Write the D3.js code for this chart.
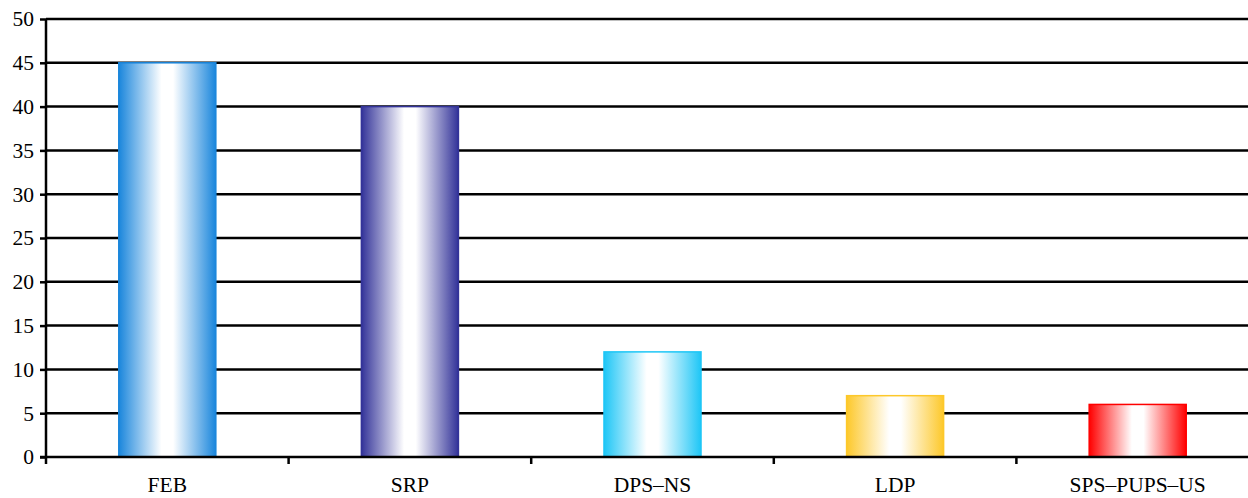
<!DOCTYPE html>
<html><head><meta charset="utf-8">
<script src="https://cdn.jsdelivr.net/npm/d3@7"></script>
<style>body{margin:0;background:#fff}svg{display:block}
text{font-family:"Liberation Serif","Times New Roman",serif !important}</style>
</head><body>
<svg id="c" width="1248" height="498"></svg>
<script>
const categories = ["FEB", "SRP", "DPS\u2013NS", "LDP", "SPS\u2013PUPS\u2013US"];
const values = [45, 40, 12, 7, 6];
const barColors = ["#1a86dc", "#333399", "#1ec6f6", "#fdc82a", "#ff0000"];
const yTicks = [0, 5, 10, 15, 20, 25, 30, 35, 40, 45, 50];

(function () {
const svg = d3.select("#c");
const mLeft = 46, mTop = 19, mBottom = 457, bandW = 242.6;
const x = d3.scaleBand().domain(categories).range([mLeft, mLeft + bandW * categories.length]).paddingInner(0.6).paddingOuter(0.3);
const y = d3.scaleLinear().domain([0, 50]).range([mBottom, mTop]);

const defs = svg.append("defs");
barColors.forEach((c, i) => {
  const g = defs.append("linearGradient").attr("id", "g" + i).attr("x1", "0").attr("x2", "1").attr("y1", "0").attr("y2", "0");
  g.append("stop").attr("offset", "0%").attr("stop-color", c);
  g.append("stop").attr("offset", "44%").attr("stop-color", "#ffffff");
  g.append("stop").attr("offset", "56%").attr("stop-color", "#ffffff");
  g.append("stop").attr("offset", "100%").attr("stop-color", c);
});

// gridlines
svg.append("g").selectAll("line").data(yTicks.filter(d => d > 0)).join("line")
  .attr("x1", mLeft).attr("x2", 1248).attr("y1", d => y(d)).attr("y2", d => y(d))
  .attr("stroke", "#000").attr("stroke-width", 2.5);

// bars
svg.append("g").selectAll("rect").data(values).join("rect")
  .attr("x", (d, i) => x(categories[i])).attr("width", x.bandwidth())
  .attr("y", d => y(d)).attr("height", d => y(0) - y(d))
  .attr("fill", (d, i) => `url(#g${i})`)
  .attr("stroke", (d, i) => barColors[i]).attr("stroke-width", 1.5);

// y axis
const yAxis = d3.axisLeft(y).tickValues(yTicks).tickSize(6).tickPadding(6);
const ya = svg.append("g").attr("transform", `translate(${mLeft},0)`).call(yAxis);
ya.attr("font-family", null);
ya.select(".domain").attr("stroke", "#000").attr("stroke-width", 2.5).attr("d", `M0,${mTop}V${mBottom}`);
ya.selectAll(".tick line").attr("stroke", "#000").attr("stroke-width", 2.5);
ya.selectAll("text").attr("font-size", 21.5).attr("fill", "#000");

// x axis
const xa = svg.append("g").attr("transform", `translate(0,${mBottom})`);
xa.append("line").attr("x1", mLeft - 6).attr("x2", 1248).attr("stroke", "#000").attr("stroke-width", 2.5);
const bounds = d3.range(1, categories.length).map(i => mLeft + bandW * i);
xa.selectAll("line.tk").data([mLeft].concat(bounds)).join("line").attr("class", "tk")
  .attr("x1", d => d).attr("x2", d => d).attr("y1", 0).attr("y2", 7)
  .attr("stroke", "#000").attr("stroke-width", 2.5);
xa.selectAll("text").data(categories).join("text")
  .attr("x", d => x(d) + x.bandwidth() / 2).attr("y", 35)
  .attr("text-anchor", "middle")
  .attr("font-size", 21.5).attr("fill", "#000")
  .text(d => d);
})();
</script>
</body></html>
